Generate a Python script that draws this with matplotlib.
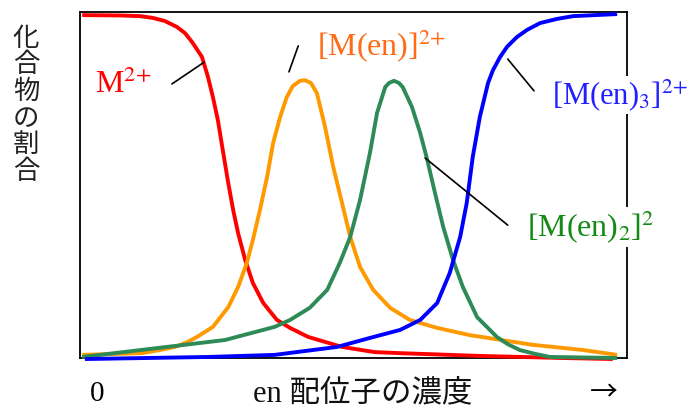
import matplotlib
matplotlib.use('Agg')
import matplotlib.pyplot as plt

plt.rcParams['mathtext.fontset'] = 'stix'

# concentration of en (0-100) and fraction of each species (%)
red_x = [0.4, 7.3, 11.0, 13.3, 15.5, 17.7, 19.2, 20.5, 22.3, 23.4, 24.3, 25.2, 26.1, 27.1,
         28.0, 28.9, 30.2, 31.6, 33.5, 36.0, 38.4, 41.7, 47.9, 53.9, 58.5, 73.1, 88.3, 97.4]
red_y = [99.1, 99.0, 98.8, 98.3, 97.4, 95.7, 93.9, 91.3, 87.0, 81.2, 75.4, 68.8, 60.1, 50.6,
         42.8, 36.1, 28.3, 21.7, 15.9, 11.0, 8.7, 6.1, 3.2, 1.7, 1.4, 0.6, 0.0, -0.3]

orange_x = [0.4, 11.3, 14.6, 17.4, 19.6, 21.4, 23.4, 24.3, 27.1, 28.9, 30.5, 31.6, 32.9, 34.2,
            35.3, 36.6, 37.8, 38.9, 40.2, 41.1, 42.2, 43.3, 44.8, 46.3, 47.9, 49.4, 51.2,
            53.6, 56.7, 60.3, 65.3, 71.3, 82.8, 92.0, 98.2]
orange_y = [0.9, 1.4, 2.3, 3.2, 4.6, 6.1, 8.1, 9.0, 14.7, 20.5, 27.5, 34.1, 42.8, 52.3,
            62.1, 69.7, 75.4, 78.6, 80.1, 80.3, 79.5, 76.6, 66.8, 55.2, 44.8, 35.0, 26.3,
            19.7, 14.5, 11.0, 8.7, 6.6, 3.8, 2.3, 0.9]

green_x = [0.4, 14.3, 26.5, 35.6, 38.4, 42.0, 45.2, 47.5, 49.4, 51.2, 53.0, 54.3, 55.8, 56.5,
           57.4, 58.3, 59.0, 60.7, 62.2, 63.4, 64.9, 66.4, 68.2, 70.0, 72.6, 76.2, 78.2,
           80.4, 83.2, 85.9, 98.2]
green_y = [0.3, 2.9, 5.2, 9.0, 11.0, 14.5, 19.7, 27.5, 35.0, 45.7, 59.2, 70.8, 78.3, 79.5,
           80.1, 79.5, 78.3, 72.5, 65.0, 57.8, 47.7, 37.9, 28.3, 20.5, 11.8, 6.1, 4.0,
           2.3, 1.2, 0.3, 0.0]

blue_x = [0.9, 23.4, 35.6, 47.0, 53.0, 58.5, 62.2, 65.3, 67.6, 69.5, 70.7, 71.8, 73.1, 74.6,
          75.5, 76.8, 78.1, 79.9, 81.7, 84.1, 87.2, 90.1, 98.2]
blue_y = [-0.3, 0.3, 0.9, 3.2, 5.8, 8.1, 11.0, 15.9, 24.6, 35.0, 44.8, 58.1, 69.7, 79.5,
          83.2, 87.0, 90.0, 92.8, 94.8, 96.8, 98.0, 98.8, 99.4]

fig = plt.figure(figsize=(6.93, 4.08), dpi=100)
ax = fig.add_axes([80 / 693, 50 / 408, 547 / 693, 346 / 408])
ax.set_xlim(0, 100)
ax.set_ylim(0, 100)
ax.set_xticks([])
ax.set_yticks([])
for s in ax.spines.values():
    s.set_linewidth(1.3)
    s.set_color('black')

lw = 2.8
curve = dict(lw=lw, zorder=3, clip_on=False, solid_capstyle='butt', solid_joinstyle='round')
ax.plot(red_x, red_y, color='#ff0000', **curve)
ax.plot(orange_x, orange_y, color='#ff9900', **curve)
ax.plot(green_x, green_y, color='#2e8b57', **curve)
ax.plot(blue_x, blue_y, color='#0000ff', **curve)

serif = ['Liberation Serif', 'DejaVu Serif']
lbl = dict(family=serif, va='baseline', ha='left', zorder=5, clip_on=False)
ax.text(2.7, 76.6, 'M$^{2{+}}$', color='#ff0000', fontsize=23, **lbl)
ax.text(43.3, 87.3, '[M(en)]$^{2{+}}$', color='#ff6a13', fontsize=23, **lbl)
ax.text(86.3, 73.4, '[M(en)$_3$]$^{2{+}}$', color='#1f1fff', fontsize=22,
        bbox=dict(fc='white', ec='none', pad=1), **lbl)
ax.text(81.7, 35.0, '[M(en)$_2$]$^2$', color='#138a13', fontsize=23,
        bbox=dict(fc='white', ec='none', pad=1), **lbl)

# leader lines
lead = dict(arrowprops=dict(arrowstyle='-', color='black', lw=1.2, shrinkA=0, shrinkB=0),
            annotation_clip=False)
ax.annotate('', xy=(22.7, 85.5), xytext=(16.8, 79.2), **lead)
ax.annotate('', xy=(39.9, 90.2), xytext=(38.2, 82.7), **lead)
ax.annotate('', xy=(78.2, 86.4), xytext=(83.0, 77.2), **lead)
ax.annotate('', xy=(63.1, 57.8), xytext=(78.2, 38.4), **lead)

# y label, one character per row
ylab = '化合物の割合'
for i, ch in enumerate(ylab):
    fig.text(26 / 693, 1 - (38 + i * 26.7) / 408, ch, fontsize=19, family=['Noto Sans CJK JP'],
             ha='center', va='center', color='#222222')

mixed = ['Liberation Serif', 'Noto Sans CJK JP']
fig.text(97 / 693, 7 / 408, '0', fontsize=21, family=mixed, ha='center', va='baseline')
fig.text(253 / 693, 7 / 408, 'en 配位子の濃度', fontsize=22, family=mixed, ha='left', va='baseline',
         color='#111111')
fig.text(604 / 693, 16 / 408, '→', fontsize=20, family=['Noto Sans CJK JP'], ha='center',
         va='center')

fig.savefig('out.png', dpi=100)
